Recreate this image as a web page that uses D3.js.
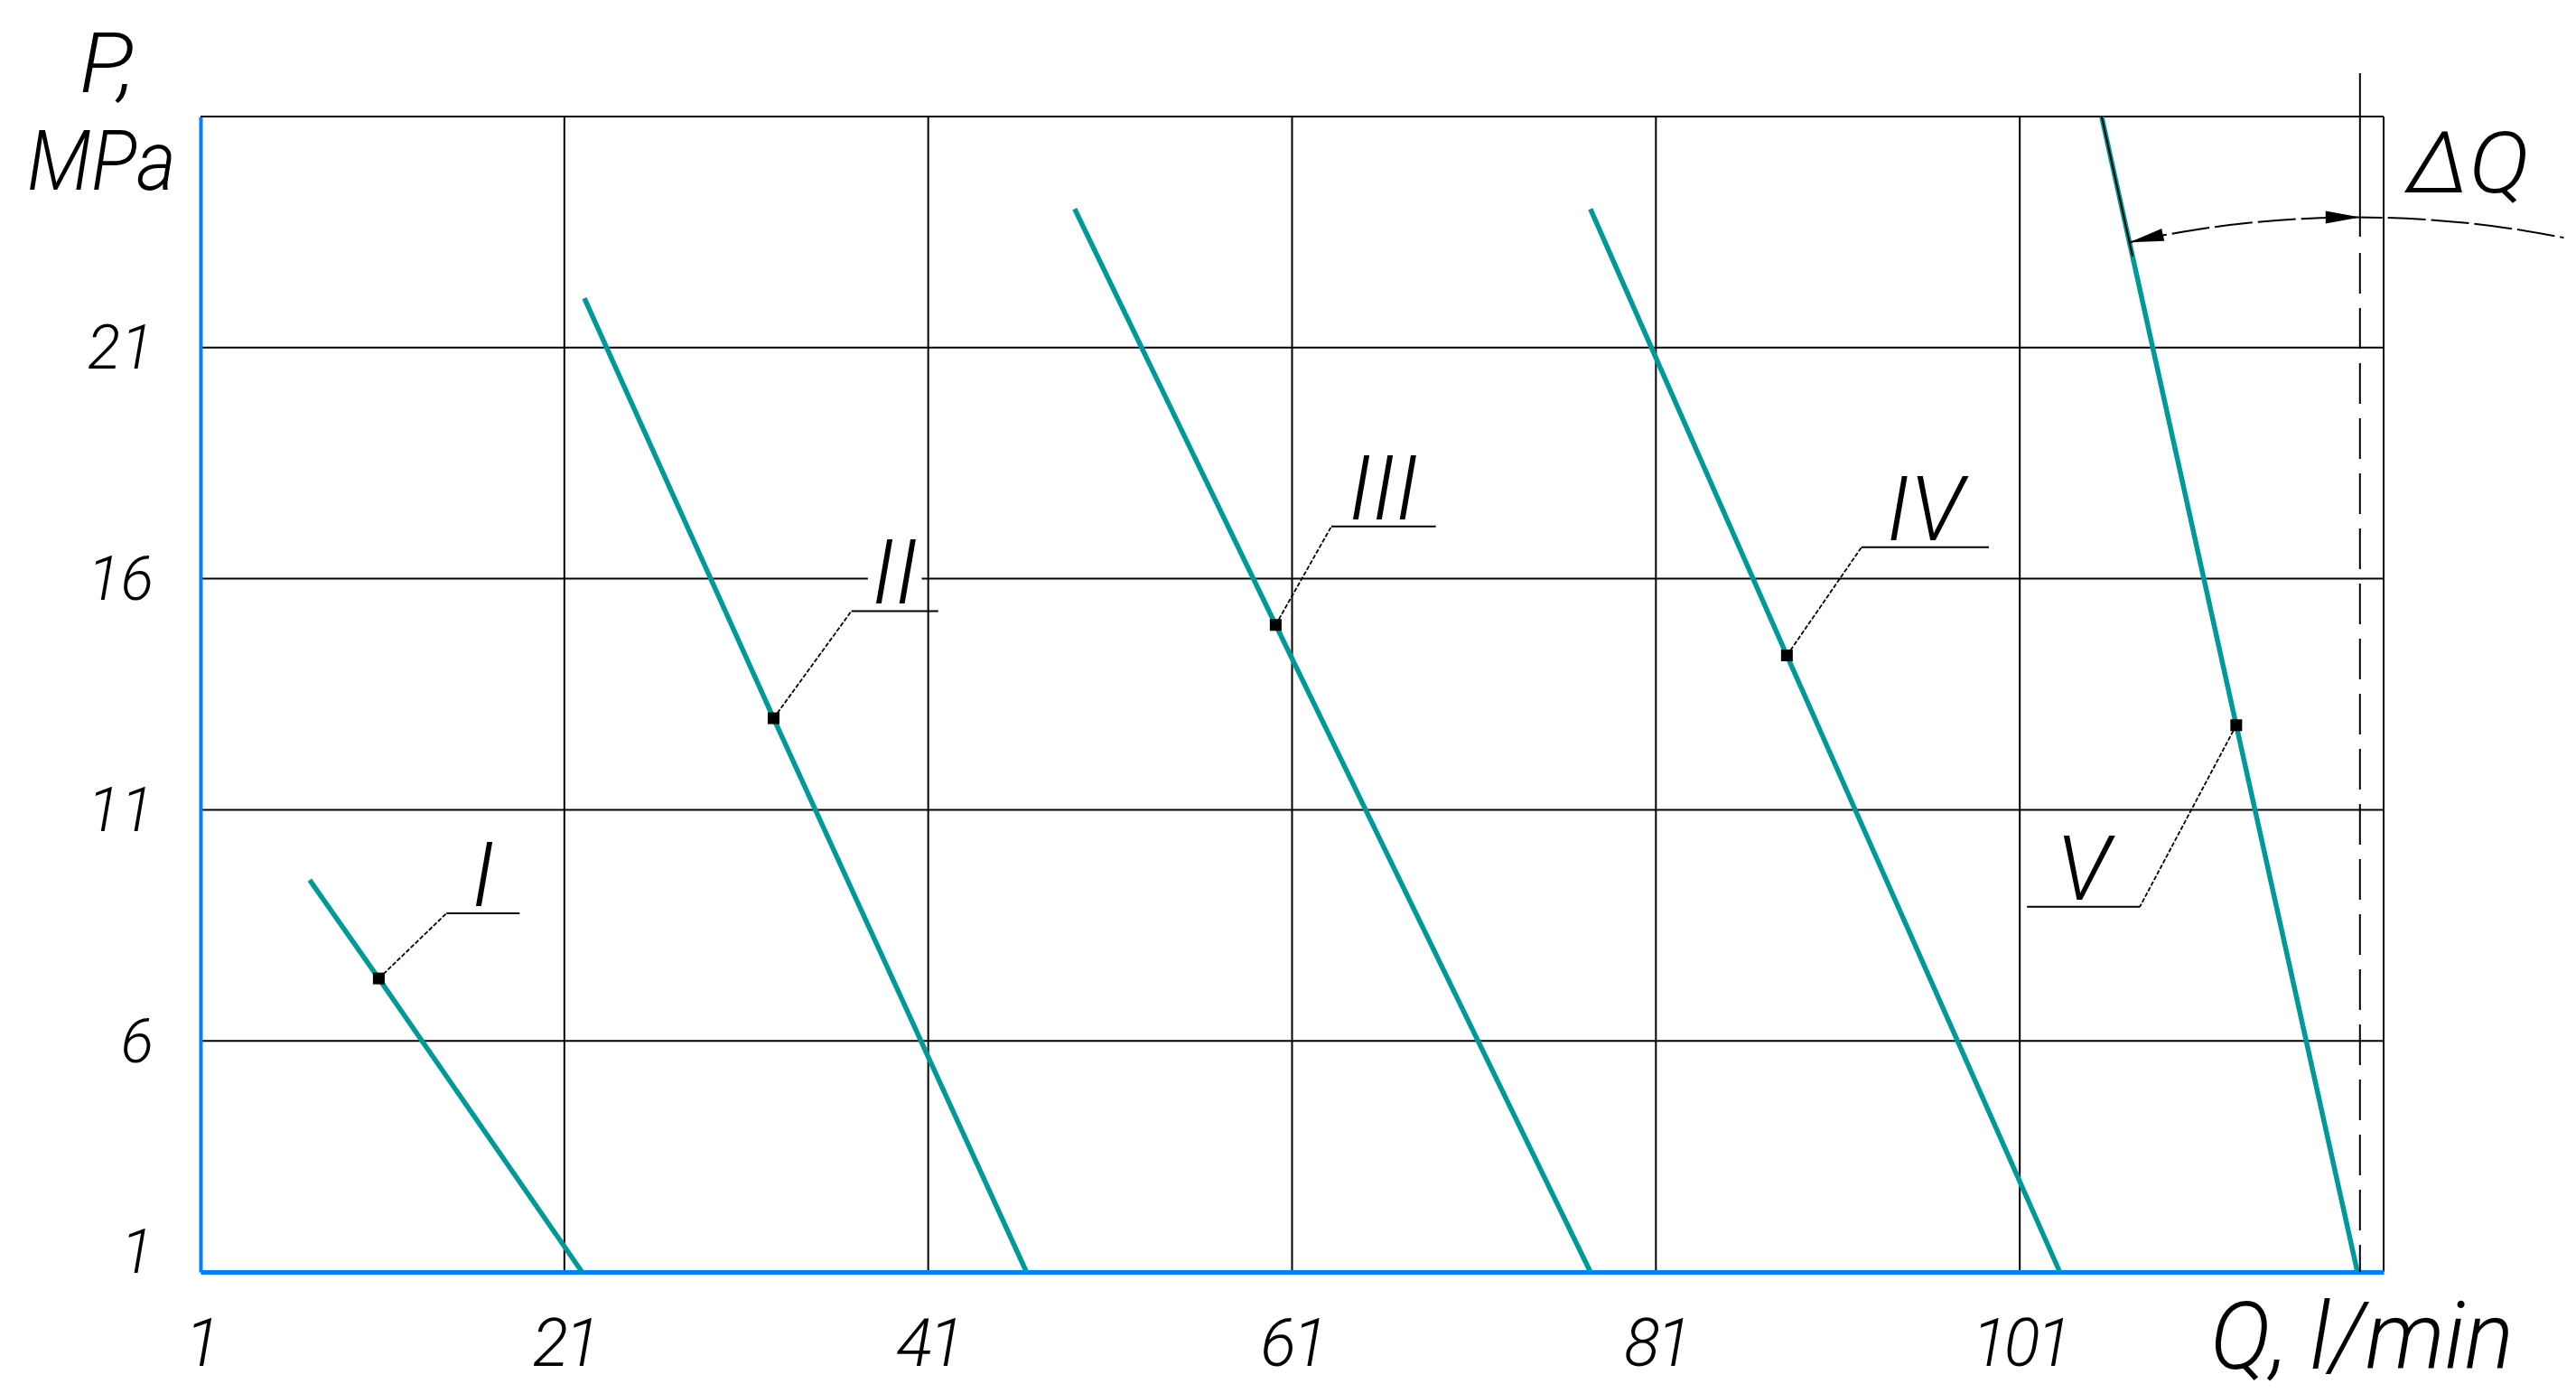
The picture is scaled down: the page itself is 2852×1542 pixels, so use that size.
<!DOCTYPE html>
<html>
<head>
<meta charset="utf-8">
<script src="https://cdn.jsdelivr.net/npm/d3@7"></script>
<style>
  html, body { margin: 0; padding: 0; background: #fff; }
  text { font-family: Roboto, "DejaVu Sans", sans-serif; font-style: italic; font-weight: 300; fill: #000; }
</style>
</head>
<body>
<svg id="chart"></svg>
<script>
// axis ticks
const qTicks = [1, 21, 41, 61, 81, 101];
const pTicks = [1, 6, 11, 16, 21];
const qMax = 121, pMax = 26;

// pump characteristics I..V, [Q l/min, P MPa]
const curveNames = ["I", "II", "III", "IV", "V"];
const curveI   = [[7.0, 9.48], [10.8, 7.35], [21.97, 1]];
const curveII  = [[22.1, 22.07], [32.5, 12.98], [46.4, 1]];
const curveIII = [[49.05, 24.0], [60.1, 15.0], [77.4, 1]];
const curveIV  = [[77.4, 24.0], [88.2, 14.34], [103.2, 1]];
const curveV   = [[105.5, 26], [112.9, 12.83], [119.56, 1]];
const curves = [curveI, curveII, curveIII, curveIV, curveV];

// marked points and leader lines (bend point, end of the shelf)
const markPoints = [[10.8, 7.35], [32.5, 12.98], [60.1, 15.0], [88.2, 14.34], [112.9, 12.83]];
const leaderBends = [[14.52, 8.76], [36.78, 15.3], [63.16, 17.13], [92.3, 16.68], [107.6, 8.9]];
const shelfEnds = [18.54, 41.55, 68.9, 99.3, 101.4];

// delta Q dimension
const qLimit = 119.7;
const arcOnV = [107.03, 23.28];

const W = 2852, H = 1542;
const blue = "#0080ff", teal = "#00999a";

const svg = d3.select("#chart").attr("width", W).attr("height", H);

const x = d3.scaleLinear().domain([1, qMax]).range([222, 2639]);
const y = d3.scaleLinear().domain([1, pMax]).range([1408, 129]);

// grid
svg.append("g").selectAll("line")
  .data(qTicks.slice(1).concat(qMax))
  .join("line")
    .attr("x1", d => x(d)).attr("x2", d => x(d))
    .attr("y1", y(pMax)).attr("y2", y(1))
    .attr("stroke", "#000").attr("stroke-width", 2);

svg.append("g").selectAll("line")
  .data(pTicks.slice(1).concat(pMax))
  .join("line")
    .attr("x1", x(1)).attr("x2", x(qMax))
    .attr("y1", d => y(d)).attr("y2", d => y(d))
    .attr("stroke", "#000").attr("stroke-width", 2);

// axes
const gx = svg.append("g")
  .attr("transform", `translate(0,${y(1)})`)
  .call(d3.axisBottom(x).tickValues(qTicks).tickSize(0).tickSizeOuter(0).tickPadding(0));
gx.attr("font-family", null).attr("font-size", 74);
gx.select(".domain").attr("stroke", blue).attr("stroke-width", 5);
gx.selectAll(".tick text").attr("y", 104).attr("dy", null).attr("letter-spacing", -4);

const gy = svg.append("g")
  .attr("transform", `translate(${x(1)},0)`)
  .call(d3.axisLeft(y).tickValues(pTicks).tickSize(0).tickSizeOuter(0).tickPadding(52));
gy.attr("font-family", null).attr("font-size", 68);
gy.select(".domain").attr("stroke", blue).attr("stroke-width", 4);
gy.selectAll(".tick text").attr("dy", d => d === 1 ? "0" : "0.34em");

// axis titles
svg.append("text").attr("x", 88).attr("y", 102).attr("font-size", 92)
  .attr("textLength", 62).attr("lengthAdjust", "spacingAndGlyphs").text("P,");
svg.append("text").attr("x", 30).attr("y", 210).attr("font-size", 92)
  .attr("textLength", 165).attr("lengthAdjust", "spacingAndGlyphs").text("MPa");
svg.append("text").attr("x", 2447).attr("y", 1515).attr("font-size", 104)
  .attr("textLength", 336).attr("lengthAdjust", "spacingAndGlyphs").text("Q, l/min");

// curves
const line = d3.line().x(d => x(d[0])).y(d => y(d[1]));
svg.append("g").selectAll("path")
  .data(curves)
  .join("path")
    .attr("d", line)
    .attr("fill", "none")
    .attr("stroke", teal)
    .attr("stroke-width", 5.5);

// labels with a white backing so the grid breaks under them
const labels = svg.append("g").selectAll(".lab")
  .data(curveNames)
  .join("g")
    .attr("class", "lab")
    .attr("transform", (d, i) => `translate(${(x(leaderBends[i][0]) + x(shelfEnds[i])) / 2},${y(leaderBends[i][1]) - 8})`);
labels.append("text")
  .attr("text-anchor", "middle")
  .attr("font-size", 100)
  .text(d => d);
labels.each(function() {
  const g = d3.select(this);
  const b = g.select("text").node().getBBox();
  g.insert("rect", "text")
    .attr("x", b.x - 4).attr("y", -74)
    .attr("width", b.width + 8).attr("height", 72)
    .attr("fill", "#fff");
});

// leaders
const leaders = svg.append("g");
leaders.selectAll(".slant")
  .data(markPoints)
  .join("line")
    .attr("class", "slant")
    .attr("x1", d => x(d[0])).attr("y1", d => y(d[1]))
    .attr("x2", (d, i) => x(leaderBends[i][0])).attr("y2", (d, i) => y(leaderBends[i][1]))
    .attr("stroke", "#000").attr("stroke-width", 1.8).attr("stroke-dasharray", "5,2");
leaders.selectAll(".shelf")
  .data(leaderBends)
  .join("line")
    .attr("class", "shelf")
    .attr("x1", d => x(d[0])).attr("y1", d => y(d[1]))
    .attr("x2", (d, i) => x(shelfEnds[i])).attr("y2", d => y(d[1]))
    .attr("stroke", "#000").attr("stroke-width", 2);

// marks
svg.append("g").selectAll("rect")
  .data(markPoints)
  .join("rect")
    .attr("x", d => x(d[0]) - 6.5).attr("y", d => y(d[1]) - 6.5)
    .attr("width", 13).attr("height", 13)
    .attr("fill", "#000");

// delta Q: dashed limit line, arc with arrows
const xl = x(qLimit);
svg.append("line")
  .attr("x1", xl).attr("x2", xl).attr("y1", y(pMax) - 48).attr("y2", 262)
  .attr("stroke", "#000").attr("stroke-width", 2);
svg.append("line")
  .attr("x1", xl).attr("x2", xl).attr("y1", 280).attr("y2", y(1))
  .attr("stroke", "#000").attr("stroke-width", 2).attr("stroke-dasharray", "45,16");

const vEnd = curveV[curveV.length - 1];
const cx = x(vEnd[0]), cy = y(vEnd[1]);
const ax = x(arcOnV[0]), ay = y(arcOnV[1]);
const r = Math.hypot(ax - cx, ay - cy);
const phiA = Math.atan2(ay - cy, ax - cx);
const phiB = -Math.PI / 2 + Math.asin((xl - cx) / r);
const phiEnd = -Math.PI / 2 + 0.197;

// extension line along curve V up to the arc
const vTop = curveV[0];
const ux = (cx - ax) / r, uy = (cy - ay) / r;
svg.append("line")
  .attr("x1", x(vTop[0])).attr("y1", y(vTop[1]))
  .attr("x2", ax + ux * 16).attr("y2", ay + uy * 16)
  .attr("stroke", "#000").attr("stroke-width", 2);

const arc = d3.path();
arc.arc(cx, cy, r, phiA, phiEnd, false);
svg.append("path")
  .attr("d", arc.toString())
  .attr("fill", "none")
  .attr("stroke", "#000").attr("stroke-width", 2)
  .attr("stroke-dasharray", "42,6");

function arrow(phi, sign) {
  const px = cx + r * Math.cos(phi), py = cy + r * Math.sin(phi);
  const dx = -Math.sin(phi) * sign, dy = Math.cos(phi) * sign;
  const L = 38, w = 7;
  const bx = px - dx * L, by = py - dy * L;
  return `M${px},${py}L${bx - dy * w},${by + dx * w}L${bx + dy * w},${by - dx * w}Z`;
}
svg.append("path").attr("d", arrow(phiA, -1)).attr("fill", "#000");
svg.append("path").attr("d", arrow(phiB, 1)).attr("fill", "#000");

svg.append("text").attr("x", 2665).attr("y", 213).attr("font-size", 95)
  .attr("textLength", 135).attr("lengthAdjust", "spacingAndGlyphs").text("ΔQ");
</script>
</body>
</html>
